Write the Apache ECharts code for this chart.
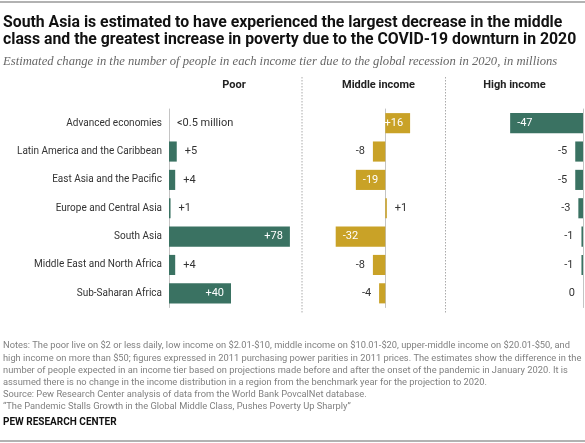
<!DOCTYPE html>
<html><head><meta charset="utf-8">
<script src="https://cdn.jsdelivr.net/npm/echarts@6/dist/echarts.min.js"></script>
<style>html,body{margin:0;padding:0;background:#fff}#c{width:585px;height:443px}</style>
</head><body><div id="c"></div>
<script>
const categories = ['Advanced economies','Latin America and the Caribbean','East Asia and the Pacific','Europe and Central Asia','South Asia','Middle East and North Africa','Sub-Saharan Africa'];
const poor = [0, 5, 4, 1, 78, 4, 40];
const poorLabels = ['<0.5 million', '+5', '+4', '+1', '+78', '+4', '+40'];
const middle = [16, -8, -19, 1, -32, -8, -4];
const high = [-47, -5, -5, -3, -1, -1, 0];
const panelTitles = ['Poor', 'Middle income', 'High income'];

const GREEN = '#3a7262', GOLD = '#c9a227';
const FONT = 'Roboto, "Liberation Sans", sans-serif';

function fmt(v){ return v > 0 ? '+' + v : String(v); }
function labelFor(v, txt){
  const base = {show:true, formatter: txt != null ? txt : fmt(v), fontSize:11, fontFamily:FONT, color:'#333'};
  if (Math.abs(v) >= 15) {
    return Object.assign(base, {position: v > 0 ? 'insideRight' : 'insideLeft', distance: 7, color:'#fff'});
  }
  return Object.assign(base, {position: v > 0 || txt ? 'right' : 'left', distance: 8});
}
function mk(vals, txts){ return vals.map((v,i)=>({value:v, label: labelFor(v, txts ? txts[i] : null)})); }

const gTop = 109, gH = 198.5;
const grids = [
  {left:169, top:gTop, width:131.75, height:gH},
  {left:323.3, top:gTop, width:93, height:gH},
  {left:459, top:gTop, width:124, height:gH}
];
const xr = [[0,85],[-40,20],[-80,0]];
const headX = [234, 378.5, 514.5];
const chart = echarts.init(document.getElementById('c'), null, {renderer:'canvas'});
const opt = {
  animation:false,
  title:[
    {text:'South Asia is estimated to have experienced the largest decrease in the middle\nclass and the greatest increase in poverty due to the COVID-19 downturn in 2020',
     left:3, top:15, padding:0, textStyle:{fontFamily:FONT, fontWeight:'bold', fontSize:15.8, color:'#111', lineHeight:17}},
    {text:'Estimated change in the number of people in each income tier due to the global recession in 2020, in millions',
     left:3, top:55, padding:0, textStyle:{fontFamily:'"Liberation Serif", serif', fontStyle:'italic', fontWeight:'normal', fontSize:12.65, color:'#666'}}
  ].concat(panelTitles.map((t,i)=>({text:t, left:headX[i], top:80, padding:0, textAlign:'center',
     textStyle:{fontFamily:FONT, fontWeight:'bold', fontSize:11, color:'#222'}}))).concat([
    {text:'Notes: The poor live on $2 or less daily, low income on $2.01-$10, middle income on $10.01-$20, upper-middle income on $20.01-$50, and\nhigh income on more than $50; figures expressed in 2011 purchasing power parities in 2011 prices. The estimates show the difference in the\nnumber of people expected in an income tier based on projections made before and after the onset of the pandemic in January 2020. It is\nassumed there is no change in the income distribution in a region from the benchmark year for the projection to 2020.\nSource: Pew Research Center analysis of data from the World Bank PovcalNet database.\n\u201cThe Pandemic Stalls Growth in the Global Middle Class, Pushes Poverty Up Sharply\u201d',
     left:3, top:340, padding:0, textStyle:{fontFamily:FONT, fontWeight:'normal', fontSize:9.3, color:'#808080', lineHeight:12.2}},
    {text:'PEW RESEARCH CENTER', left:3, top:417, padding:0, textStyle:{fontFamily:FONT, fontWeight:'bold', fontSize:10, color:'#111'}}
  ]),
  graphic:[
    {type:'line', shape:{x1:0,y1:2,x2:585,y2:2}, style:{stroke:'#999', lineWidth:1.5}},
    {type:'line', shape:{x1:0,y1:441,x2:585,y2:441}, style:{stroke:'#999', lineWidth:1.5}},
    {type:'line', shape:{x1:302,y1:77,x2:302,y2:313}, style:{stroke:'#aaa', lineWidth:1, lineDash:[1.5,1.5]}},
    {type:'line', shape:{x1:445.5,y1:77,x2:445.5,y2:313}, style:{stroke:'#aaa', lineWidth:1, lineDash:[1.5,1.5]}}
  ],
  grid: grids,
  xAxis: xr.map((r,i)=>({type:'value', gridIndex:i, min:r[0], max:r[1], show:false})),
  yAxis: [0,1,2].map(i=>({type:'category', gridIndex:i, data:categories, inverse:true,
     axisLine:{show:true, onZero:true, lineStyle:{color:'#c4c4c4', width:1}},
     axisTick:{show:false},
     axisLabel:{show:i===0, margin:7, fontSize:10, fontFamily:FONT, color:'#333'}})),
  series:[
    {type:'bar', xAxisIndex:0, yAxisIndex:0, data:mk(poor, poorLabels), itemStyle:{color:GREEN}, barCategoryGap:'29%'},
    {type:'bar', xAxisIndex:1, yAxisIndex:1, data:mk(middle), itemStyle:{color:GOLD}, barCategoryGap:'29%'},
    {type:'bar', xAxisIndex:2, yAxisIndex:2, data:mk(high), itemStyle:{color:GREEN}, barCategoryGap:'29%'}
  ]
};
chart.setOption(opt);
</script></body></html>
